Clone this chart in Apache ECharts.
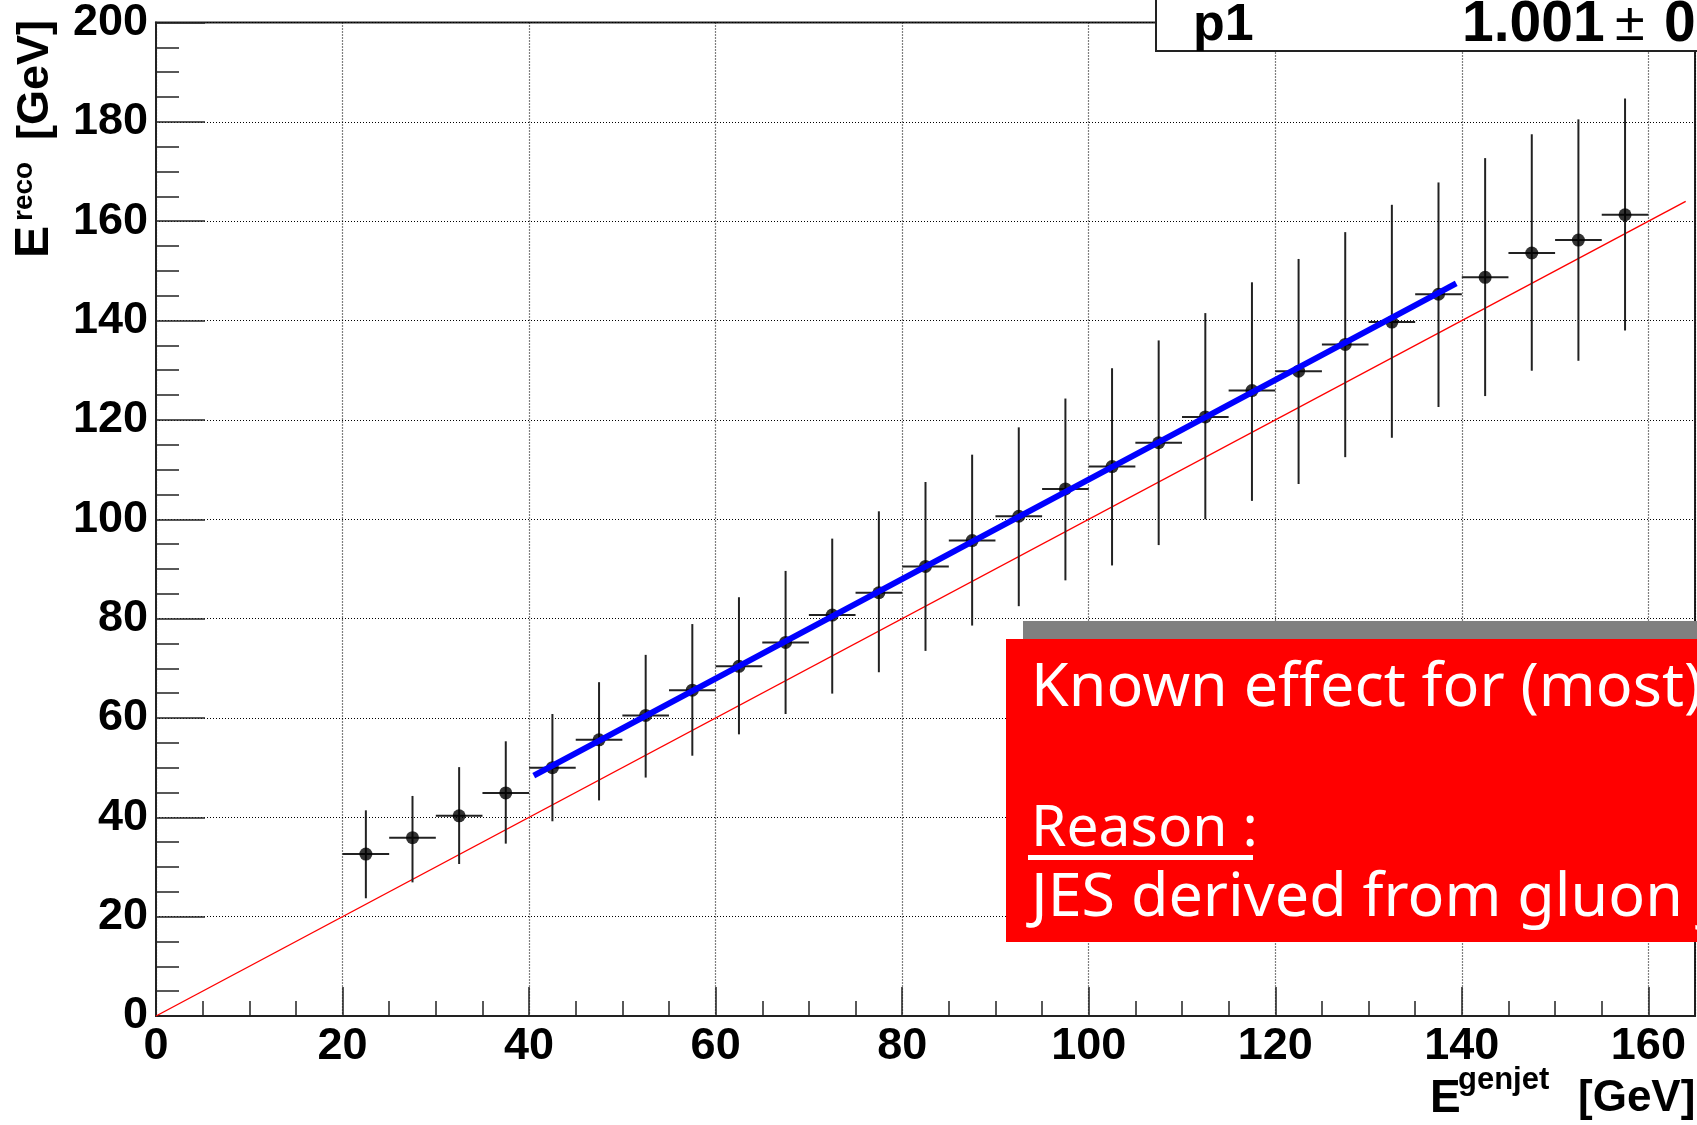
<!DOCTYPE html>
<html>
<head>
<meta charset="utf-8">
<script src="https://cdn.jsdelivr.net/npm/echarts@6/dist/echarts.min.js"></script>
<style>
  html, body { margin: 0; padding: 0; background: #fff; }
  #chart { width: 1697px; height: 1125px; }
</style>
</head>
<body>
<div id="chart"></div>
<script>
// ---- data ----
const binCenters = [22.5, 27.5, 32.5, 37.5, 42.5, 47.5, 52.5, 57.5, 62.5, 67.5,
                    72.5, 77.5, 82.5, 87.5, 92.5, 97.5, 102.5, 107.5, 112.5, 117.5,
                    122.5, 127.5, 132.5, 137.5, 142.5, 147.5, 152.5, 157.5];
const binHalfWidth = 2.5;
const recoMean = [32.6, 35.9, 40.3, 44.9, 50.0, 55.6, 60.5, 65.6, 70.4, 75.2,
                  80.7, 85.2, 90.5, 95.7, 100.6, 106.1, 110.6, 115.4, 120.6, 125.9,
                  129.8, 135.2, 139.7, 145.3, 148.7, 153.6, 156.2, 161.3];
const recoHigh = [41.4, 44.3, 50.1, 55.3, 60.8, 67.2, 72.7, 78.9, 84.3, 89.6,
                  96.1, 101.6, 107.5, 113.0, 118.5, 124.3, 130.4, 136.0, 141.5, 147.7,
                  152.4, 157.8, 163.3, 167.8, 172.7, 177.5, 180.5, 184.7];
const recoLow = [23.7, 26.9, 30.6, 34.7, 39.2, 43.4, 48.0, 52.4, 56.7, 60.8,
                 64.9, 69.2, 73.5, 78.6, 82.5, 87.7, 90.7, 94.8, 100.0, 103.7,
                 107.1, 112.5, 116.4, 122.6, 124.8, 129.9, 131.9, 138.0];
const fitLine = [[40.5, 48.4], [139.4, 147.5]];
const diagonal = [[0, 0], [164, 164]];
const xTicks = { min: 0, max: 165, step: 20 };
const yTicks = { min: 0, max: 200, step: 20 };
const fitParName = 'p1';
const fitParValue = '1.001';
const fitParError = '0';

// ---- build ----
const points = binCenters.map((x, i) => [x, recoMean[i]]);
const errData = binCenters.map((x, i) => [x, recoMean[i], recoLow[i], recoHigh[i]]);

const tickFont = { fontFamily: 'Liberation Sans', fontWeight: 'bold', fontSize: 45, color: '#000' };
const ink = '#222';

const chart = echarts.init(document.getElementById('chart'), null, { renderer: 'canvas' });
const option = {
  animation: false,
  backgroundColor: '#fff',
  grid: { left: 156, right: 2, top: 20, bottom: 109, show: true, borderColor: ink, borderWidth: 2, backgroundColor: '#fff' },
  xAxis: {
    type: 'value', min: xTicks.min, max: xTicks.max, interval: xTicks.step,
    axisLine: { show: true, lineStyle: { color: ink, width: 2 } },
    axisTick: { show: true, inside: true, length: 29, lineStyle: { color: ink, width: 1.5 } },
    minorTick: { show: true, splitNumber: 4, length: 15, lineStyle: { color: ink, width: 1.5 } },
    axisLabel: Object.assign({ margin: 8, showMaxLabel: false }, tickFont),
    splitLine: { show: true, lineStyle: { color: '#000', width: 1.2, type: [1, 2] } }
  },
  yAxis: {
    type: 'value', min: yTicks.min, max: yTicks.max, interval: yTicks.step,
    axisLine: { show: true, lineStyle: { color: ink, width: 2 } },
    axisTick: { show: true, inside: true, length: 49, lineStyle: { color: ink, width: 1.5 } },
    minorTick: { show: true, splitNumber: 4, length: 23, lineStyle: { color: ink, width: 1.5 } },
    axisLabel: Object.assign({ margin: 8 }, tickFont),
    splitLine: { show: true, lineStyle: { color: '#000', width: 1.2, type: [1, 2] } }
  },
  series: [
    {
      type: 'line', data: diagonal, showSymbol: false, silent: true, z: 2,
      lineStyle: { color: '#ff0000', width: 1.4 }
    },
    {
      type: 'custom', data: errData, z: 3, silent: true,
      encode: { x: 0, y: 1 },
      renderItem: function (params, api) {
        const x = api.value(0), y = api.value(1), lo = api.value(2), hi = api.value(3);
        const a = api.coord([x, lo]), b = api.coord([x, hi]);
        const l = api.coord([x - binHalfWidth, y]), r = api.coord([x + binHalfWidth, y]);
        const st = { stroke: ink, lineWidth: 2 };
        return { type: 'group', children: [
          { type: 'line', shape: { x1: a[0], y1: a[1], x2: b[0], y2: b[1] }, style: st },
          { type: 'line', shape: { x1: l[0], y1: l[1], x2: r[0], y2: r[1] }, style: st }
        ] };
      }
    },
    {
      type: 'scatter', data: points, symbol: 'circle', symbolSize: 13, z: 4, silent: true,
      itemStyle: { color: '#000' }
    },
    {
      type: 'line', data: fitLine, showSymbol: false, silent: true, z: 5,
      lineStyle: { color: '#0000ff', width: 6 }
    }
  ],
  graphic: [
    // stats box
    { type: 'rect', shape: { x: 1156, y: -5, width: 600, height: 56 }, style: { fill: '#fff', stroke: ink, lineWidth: 2 }, z: 50 },
    { type: 'text', x: 1193, y: 26, z: 51, style: { text: fitParName, font: 'bold 52px "Liberation Sans"', fill: '#000', verticalAlign: 'middle' } },
    { type: 'text', x: 1462, y: 25, z: 51, style: { text: fitParValue, font: 'bold 57px "Liberation Sans"', fill: '#000', verticalAlign: 'middle' } },
    { type: 'text', x: 1615, y: 25, z: 51, style: { text: '±', font: '54px "Liberation Sans"', fill: '#000', verticalAlign: 'middle' } },
    { type: 'text', x: 1664, y: 25, z: 51, style: { text: fitParError, font: 'bold 57px "Liberation Sans"', fill: '#000', verticalAlign: 'middle' } },
    // annotation box
    { type: 'rect', shape: { x: 1023, y: 621, width: 700, height: 300 }, style: { fill: '#808080' }, z: 60 },
    { type: 'rect', shape: { x: 1006, y: 639, width: 700, height: 303 }, style: { fill: '#ff0000' }, z: 61 },
    { type: 'text', x: 1031, y: 689, z: 62, style: { text: 'Known effect for (most)', font: '61px "Noto Sans"', fill: '#fff', verticalAlign: 'middle' } },
    { type: 'text', x: 1031, y: 830, z: 62, style: { text: 'Reason :', font: '57px "Noto Sans"', fill: '#fff', verticalAlign: 'middle' } },
    { type: 'rect', shape: { x: 1028, y: 855, width: 225, height: 5 }, style: { fill: '#fff' }, z: 62 },
    { type: 'text', x: 1031, y: 899, z: 62, style: { text: 'JES derived from gluon jets', font: '61px "Noto Sans"', fill: '#fff', verticalAlign: 'middle' } },
    // x-axis title
    { type: 'text', x: 1430, y: 1099, z: 40, style: { text: 'E', font: 'bold 46px "Liberation Sans"', fill: '#000', verticalAlign: 'middle' } },
    { type: 'text', x: 1458, y: 1080, z: 40, style: { text: 'genjet', font: 'bold 31px "Liberation Sans"', fill: '#000', verticalAlign: 'middle' } },
    { type: 'text', x: 1578, y: 1099, z: 40, style: { text: '[GeV]', font: 'bold 44px "Liberation Sans"', fill: '#000', verticalAlign: 'middle' } },
    // y-axis title (rotated)
    { type: 'group', x: 0, y: 258, rotation: Math.PI / 2, z: 40, children: [
      { type: 'text', x: 0, y: 35, style: { text: 'E', font: 'bold 48px "Liberation Sans"', fill: '#000', verticalAlign: 'middle' } },
      { type: 'text', x: 37, y: 24, style: { text: 'reco', font: 'bold 28px "Liberation Sans"', fill: '#000', verticalAlign: 'middle' } },
      { type: 'text', x: 118, y: 36, style: { text: '[GeV]', font: 'bold 45px "Liberation Sans"', fill: '#000', verticalAlign: 'middle' } }
    ] }
  ]
};
chart.setOption(option);
</script>
</body>
</html>
